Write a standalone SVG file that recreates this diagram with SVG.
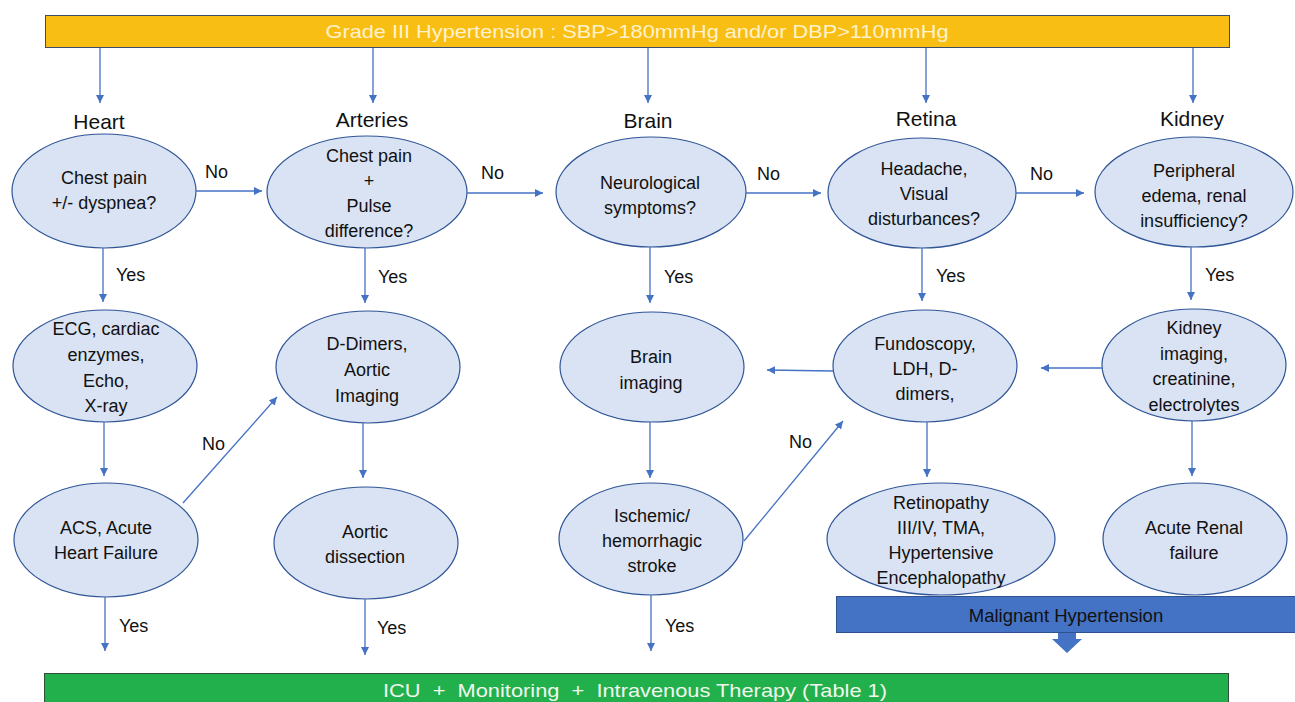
<svg xmlns="http://www.w3.org/2000/svg" width="1295" height="702" viewBox="0 0 1295 702">
<style>
.nd{fill:#DAE3F3;stroke:#2F5597;stroke-width:1.2}
.t{font-family:"Liberation Sans",Arial,sans-serif;font-size:18px;fill:#111;text-anchor:middle}
.h{font-family:"Liberation Sans",Arial,sans-serif;font-size:21px;fill:#111;text-anchor:middle}
.l{font-family:"Liberation Sans",Arial,sans-serif;font-size:18px;fill:#111}
.c{stroke:#4472C4;stroke-width:1.3;fill:none;marker-end:url(#ah)}
.bn{font-family:"Liberation Sans",Arial,sans-serif;font-size:19px;text-anchor:middle}
</style>
<defs>
<marker id="ah" markerUnits="userSpaceOnUse" markerWidth="9" markerHeight="9" refX="8" refY="4" orient="auto">
<path d="M0,0 L8,4 L0,8 z" fill="#4472C4"/>
</marker>
</defs>
<rect width="1295" height="702" fill="#ffffff"/>

<g id="top">
<rect x="45.5" y="15.5" width="1184" height="32" fill="#F9BE14" stroke="#3B4D6E" stroke-width="1"/>
<text class="bn" x="637" y="38" fill="#FFF2CC" textLength="623" lengthAdjust="spacingAndGlyphs">Grade III Hypertension : SBP&gt;180mmHg and/or DBP&gt;110mmHg</text>
</g>

<g id="labels">
<text class="h" x="99" y="129">Heart</text>
<text class="h" x="372" y="127">Arteries</text>
<text class="h" x="648" y="128">Brain</text>
<text class="h" x="926" y="126">Retina</text>
<text class="h" x="1192" y="126">Kidney</text>
</g>

<g id="heart-q"><ellipse class="nd" cx="104" cy="191" rx="92" ry="57"/>
<text class="t" x="104" y="184">Chest pain</text><text class="t" x="104" y="209">+/- dyspnea?</text></g>
<g id="arteries-q"><ellipse class="nd" cx="367" cy="192" rx="100" ry="56"/>
<text class="t" x="369" y="162">Chest pain</text><text class="t" x="369" y="187">+</text><text class="t" x="369" y="212">Pulse</text><text class="t" x="369" y="237">difference?</text></g>
<g id="brain-q"><ellipse class="nd" cx="651" cy="192" rx="95" ry="55"/>
<text class="t" x="650" y="189">Neurological</text><text class="t" x="650" y="214">symptoms?</text></g>
<g id="retina-q"><ellipse class="nd" cx="922" cy="193" rx="94" ry="55"/>
<text class="t" x="924" y="175">Headache,</text><text class="t" x="924" y="200">Visual</text><text class="t" x="924" y="225">disturbances?</text></g>
<g id="kidney-q"><ellipse class="nd" cx="1194" cy="192" rx="99" ry="55"/>
<text class="t" x="1194" y="177">Peripheral</text><text class="t" x="1194" y="202">edema, renal</text><text class="t" x="1194" y="227">insufficiency?</text></g>

<g id="ecg"><ellipse class="nd" cx="105" cy="366" rx="92" ry="56"/>
<text class="t" x="106" y="335">ECG, cardiac</text><text class="t" x="106" y="361">enzymes,</text><text class="t" x="106" y="387">Echo,</text><text class="t" x="106" y="412">X-ray</text></g>
<g id="ddimers"><ellipse class="nd" cx="368" cy="367" rx="92" ry="56"/>
<text class="t" x="367" y="350">D-Dimers,</text><text class="t" x="367" y="376">Aortic</text><text class="t" x="367" y="402">Imaging</text></g>
<g id="brain-img"><ellipse class="nd" cx="652" cy="367" rx="92" ry="55"/>
<text class="t" x="651" y="363">Brain</text><text class="t" x="651" y="389">imaging</text></g>
<g id="fundoscopy"><ellipse class="nd" cx="925" cy="366" rx="92" ry="56"/>
<text class="t" x="925" y="350">Fundoscopy,</text><text class="t" x="925" y="375">LDH, D-</text><text class="t" x="925" y="400">dimers,</text></g>
<g id="kidney-img"><ellipse class="nd" cx="1194" cy="365" rx="92" ry="56"/>
<text class="t" x="1194" y="334">Kidney</text><text class="t" x="1194" y="360">imaging,</text><text class="t" x="1194" y="385">creatinine,</text><text class="t" x="1194" y="411">electrolytes</text></g>

<g id="acs"><ellipse class="nd" cx="106" cy="540" rx="92" ry="57"/>
<text class="t" x="106" y="534">ACS, Acute</text><text class="t" x="106" y="559">Heart Failure</text></g>
<g id="dissection"><ellipse class="nd" cx="366" cy="543" rx="92" ry="56"/>
<text class="t" x="365" y="538">Aortic</text><text class="t" x="365" y="563">dissection</text></g>
<g id="stroke"><ellipse class="nd" cx="651" cy="539" rx="92" ry="56"/>
<text class="t" x="652" y="522">Ischemic/</text><text class="t" x="652" y="547">hemorrhagic</text><text class="t" x="652" y="572">stroke</text></g>
<g id="retinopathy"><ellipse class="nd" cx="941" cy="539" rx="114" ry="56"/>
<text class="t" x="941" y="509">Retinopathy</text><text class="t" x="941" y="534">III/IV, TMA,</text><text class="t" x="941" y="559">Hypertensive</text><text class="t" x="941" y="584">Encephalopathy</text></g>
<g id="renal"><ellipse class="nd" cx="1195" cy="539" rx="92" ry="56"/>
<text class="t" x="1194" y="534">Acute Renal</text><text class="t" x="1194" y="559">failure</text></g>

<g id="malignant">
<rect x="836.5" y="596.5" width="460" height="36" fill="#4472C4" stroke="#2F528F" stroke-width="1"/>
<text class="bn" x="1066" y="622" fill="#111" style="font-size:18.5px">Malignant Hypertension</text>
<path d="M1058,633 H1076 V639 H1082 L1067,653 L1052,639 H1058 Z" fill="#4472C4"/>
</g>

<g id="icu">
<rect x="44.5" y="673.5" width="1184" height="34" fill="#21B04B" stroke="#2F4F3A" stroke-width="1"/>
<text class="bn" x="635" y="697" fill="#F2F7EE" style="white-space:pre" textLength="504" lengthAdjust="spacingAndGlyphs">ICU  +  Monitoring  +  Intravenous Therapy (Table 1)</text>
</g>

<g id="connectors">
<line class="c" x1="100" y1="48" x2="100" y2="103"/>
<line class="c" x1="373" y1="48" x2="373" y2="103"/>
<line class="c" x1="648" y1="48" x2="648" y2="103"/>
<line class="c" x1="926" y1="48" x2="926" y2="103"/>
<line class="c" x1="1193" y1="48" x2="1193" y2="103"/>

<line class="c" x1="196" y1="191" x2="262" y2="191"/>
<line class="c" x1="467" y1="193" x2="543" y2="193"/>
<line class="c" x1="746" y1="193" x2="821" y2="193"/>
<line class="c" x1="1016" y1="193" x2="1084" y2="193"/>

<line class="c" x1="103" y1="248" x2="103" y2="302"/>
<line class="c" x1="365" y1="248" x2="365" y2="303"/>
<line class="c" x1="650" y1="247" x2="650" y2="303"/>
<line class="c" x1="922" y1="248" x2="922" y2="301"/>
<line class="c" x1="1191" y1="247" x2="1191" y2="300"/>

<line class="c" x1="104" y1="422" x2="104" y2="476"/>
<line class="c" x1="363" y1="423" x2="363" y2="478"/>
<line class="c" x1="650" y1="422" x2="650" y2="478"/>
<line class="c" x1="927" y1="422" x2="927" y2="477"/>
<line class="c" x1="1192" y1="421" x2="1192" y2="476"/>

<line class="c" x1="833" y1="371" x2="767" y2="370"/>
<line class="c" x1="1102" y1="368" x2="1041" y2="368"/>

<line class="c" x1="183" y1="503" x2="277" y2="397"/>
<line class="c" x1="744" y1="541" x2="843" y2="421"/>

<line class="c" x1="105" y1="597" x2="105" y2="651"/>
<line class="c" x1="365" y1="599" x2="365" y2="655"/>
<line class="c" x1="651" y1="595" x2="651" y2="651"/>

<text class="l" x="205" y="178">No</text>
<text class="l" x="481" y="179">No</text>
<text class="l" x="757" y="180">No</text>
<text class="l" x="1030" y="180">No</text>

<text class="l" x="116" y="281">Yes</text>
<text class="l" x="378" y="283">Yes</text>
<text class="l" x="664" y="283">Yes</text>
<text class="l" x="936" y="282">Yes</text>
<text class="l" x="1205" y="281">Yes</text>

<text class="l" x="202" y="450">No</text>
<text class="l" x="789" y="448">No</text>

<text class="l" x="119" y="632">Yes</text>
<text class="l" x="377" y="634">Yes</text>
<text class="l" x="665" y="632">Yes</text>
</g>
</svg>
